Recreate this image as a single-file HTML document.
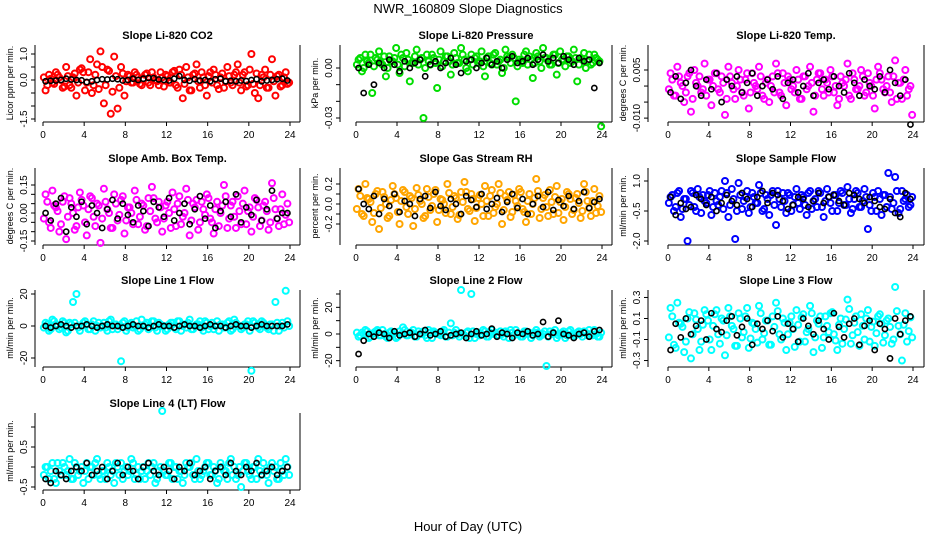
<!DOCTYPE html>
<html><head><meta charset="utf-8">
<style>
body{margin:0;background:#fff;}
svg{display:block;font-family:"Liberation Sans",Arial,sans-serif;}
.t{font-weight:bold;font-size:11px;}
.tk{font-size:10px;}
.yl{font-size:9px;}
</style></head>
<body>
<svg id="chart" width="936" height="540" viewBox="0 0 936 540">
<text x="468" y="13" text-anchor="middle" font-size="13">NWR_160809  Slope Diagnostics</text>
<text x="468" y="531" text-anchor="middle" font-size="13">Hour of Day (UTC)</text>
</svg>
<script>
const xTicks=[0,4,8,12,16,20,24];
const co2C=[-40,20,-10,30,10,-30,50,-20,10,-60,40,30,-10,80,-20,60,110,-90,40,-130,90,-110,50,-60,20,-10,30,10,-20,20,-10,30,0,-20,10,20,-10,30,-20,40,-70,50,-40,20,60,-30,10,-60,30,40,-20,10,-30,50,-10,20,60,-40,30,-20,100,-50,-70,20,40,-30,80,-60,20,-20,30,-10];
const co2C2=[10,-20,5,-15,20,0,-25,15,-30,25,-10,45,-40,30,-50,20,-35,50,-20,35,-45,15,-30,25,-5,15,-10,20,-15,5,25,-20,10,-5,30,-25,15,-10,35,-30,20,-15,10,-40,25,-5,30,-20,15,-10,20,-35,25,-5,15,-20,30,-10,20,-25,40,-15,25,-20,10,-30,20,-5,15,-25,10,-15];
const co2K=[-5,-3,-2,0,5,2,0,-1,-8,-5,0,3,2,5,3,-2,0,5,0,5,8,7,2,0,-2,5,15,0,-3,3,-2,0,-5,3,5,-5,-3,-5,-2,-4,0,3,-5,-2,0,3,5,-2];
const presC=[5,-2,8,3,-15,6,10,2,-5,7,4,12,-3,6,9,-8,3,11,5,-30,8,2,6,-12,10,4,7,-4,9,3,12,5,-2,8,6,3,10,-5,7,2,9,4,-3,11,6,8,-20,5,3,10,7,-6,9,4,12,6,2,8,-4,10,5,7,3,11,-8,6,9,4,2,8,5,-35];
const presC2=[2,6,0,4,8,1,5,3,7,0,4,6,2,8,1,5,3,7,2,6,0,4,8,3,5,1,7,4,2,6,3,8,0,5,2,7,4,1,6,3,8,2,5,0,7,3,6,1,4,8,2,5,3,7,0,6,4,2,8,3,5,1,7,4,6,2,5,0,8,3,6,4];
const presK=[0,-15,2,-10,3,0,5,2,-2,4,0,3,5,-5,2,4,0,3,6,2,-3,4,5,0,3,6,2,4,0,5,7,3,4,6,2,5,8,4,6,3,7,5,2,6,4,5,-12,3];
const tempC=[4,-3,6,1,-5,3,-8,5,0,-2,7,2,-6,4,-1,3,-9,6,1,-4,5,-2,2,-7,4,0,6,-3,1,-5,3,7,-2,4,-6,2,0,5,-4,3,-1,6,-8,2,4,-3,1,5,-2,-6,3,0,7,-4,2,-1,5,-3,4,0,-7,6,2,-2,3,-5,8,1,-4,5,-1,-9];
const tempC2=[-1,2,-3,3,0,-2,4,-4,1,3,-1,-3,2,0,4,-2,1,-4,3,-1,0,2,-3,4,-2,1,-1,3,-4,2,0,-2,4,-3,1,3,-1,-2,2,-4,3,0,1,-3,4,-1,2,-2,3,0,-4,1,2,-3,4,-1,0,3,-2,1,-3,2,4,-1,0,-2,3,-4,1,2,-3,0];
const tempK=[-2,3,-4,1,5,0,-3,2,-1,4,-5,2,0,3,-2,1,4,-3,0,2,-1,3,-4,1,2,-2,0,4,-3,1,2,-1,3,0,-2,4,1,-3,2,0,-1,3,-2,5,1,-3,2,-12];
const ambC=[10,-5,12,3,-10,6,-14,8,0,-7,11,4,-12,9,-2,5,-16,13,2,-8,10,-4,7,-11,3,0,12,-6,5,-9,8,14,-3,6,-10,4,0,11,-7,9,-2,13,-12,5,7,-5,2,10,-3,-11,6,0,15,-8,4,-2,9,-6,12,1,-10,8,3,-4,6,-9,16,2,-7,10,-1,-5];
const ambC2=[-3,6,-8,4,1,-6,9,-2,5,-9,3,7,-5,2,8,-7,4,-3,6,0,-8,5,-1,9,-4,3,-6,7,-2,4,-7,1,8,-5,3,-3,6,-8,2,5,-6,0,7,-4,3,-9,6,-1,8,-5,2,-7,4,9,-3,6,-8,1,5,-6,3,-2,7,-7,4,1,-5,8,-3,2,-6,5];
const ambK=[0,-4,5,8,-10,3,-2,6,-6,4,0,-8,2,7,-3,5,-1,-5,4,1,-7,6,3,-2,8,-4,0,5,-6,2,9,-3,4,-8,1,6,-2,10,-5,3,-1,7,-4,2,12,-3,0,0];
const rhC=[15,-10,20,5,-18,10,-25,12,0,-12,18,6,-20,14,-3,8,-22,16,3,-14,15,-6,10,-18,5,0,20,-10,8,-15,12,22,-5,10,-17,6,0,18,-12,14,-3,20,-20,8,12,-8,3,15,-5,-18,10,0,25,-14,6,-3,14,-10,18,2,-16,12,5,-6,10,-14,20,3,-12,15,-2,-8];
const rhC2=[-5,8,-12,6,2,-9,13,-4,7,-14,4,10,-8,3,12,-10,6,-5,9,0,-12,7,-2,14,-6,4,-9,11,-3,6,-11,2,12,-7,5,-4,9,-12,3,8,-9,0,11,-6,4,-13,9,-2,12,-8,3,-10,6,13,-5,9,-12,2,7,-9,5,-3,10,-10,6,1,-7,12,-4,3,-9,8];
const rhK=[15,0,-5,8,-10,5,-2,10,-8,3,0,-12,5,8,-4,12,-2,-6,5,0,-10,8,4,-3,10,-5,0,6,-8,2,10,-4,5,-10,0,8,-3,12,-6,4,-2,8,-5,3,12,-4,2,5];
const flowC=[2,-5,4,-8,1,-20,5,-3,6,-6,0,3,-7,4,-2,5,10,-8,6,-19,9,-4,2,-6,4,-1,8,-5,3,-7,5,-12,1,4,-6,3,-2,6,-4,2,-7,5,0,-3,4,-8,6,-1,3,-5,5,-2,7,-6,1,4,-3,6,-14,-5,2,5,-7,3,14,-4,12,-6,5,1,-3,2];
const flowC2=[-1,3,-3,5,-4,1,-2,4,-5,2,3,-1,5,-3,0,2,-4,4,-2,1,-5,3,0,5,-3,2,-1,4,-4,1,3,-2,5,-3,0,4,-5,2,-1,3,-2,4,-4,1,5,-3,0,2,-5,3,-1,4,-2,1,-4,5,-3,0,2,-2,4,-5,1,3,-3,2,-1,5,-4,0,3,-2];
const flowK=[2,-7,-1,-4,-3,3,1,-2,2,-5,-1,3,0,-2,4,1,-3,2,5,-1,4,3,0,-4,-2,2,1,-3,0,4,-1,2,3,0,-2,4,3,1,-1,2,0,-3,-4,1,-6,-8,4,1];
const l1C=[2,-3,4,1,-2,3,-4,2,15,20,-3,2,1,-2,3,0,-1,2,-3,4,1,-2,-22,3,-1,2,0,-3,4,1,-2,3,-1,2,0,-3,1,2,-2,3,0,-1,4,-2,1,3,-3,2,0,-2,3,1,-1,2,-3,4,0,-2,1,3,-28,2,-1,3,0,-2,1,15,-3,2,22,0];
const l1C2=[-1,1,-2,3,0,-1,2,-3,1,2,-1,0,3,-2,1,-3,2,0,-1,3,-2,1,0,2,-3,1,-1,3,-2,0,2,-1,3,-3,1,0,-2,2,-1,3,-3,1,2,-2,0,1,-1,3,-2,2,0,-3,1,-1,3,-2,2,0,-1,1,-3,3,0,-2,2,-1,1,-3,2,0,-1,3];
const l1K=[0,-1,0,1,0,-1,0,0,1,0,-1,0,1,0,0,-1,0,1,0,0,-1,0,1,0,0,-1,0,1,0,0,-1,0,1,0,0,-1,0,1,0,0,-1,0,1,0,0,0,0,1];
const l2C=[-2,1,3,-3,0,2,-1,3,-2,1,0,-3,2,5,-1,1,3,-2,0,2,-3,1,2,0,-1,3,-2,8,1,0,33,-1,2,30,-3,1,0,2,-2,3,1,-1,0,2,-3,1,3,0,-2,2,1,-1,3,-2,0,-24,2,1,-3,0,2,-1,3,-2,1,0,2,-1,0,3,-2,1];
const l2C2=[1,-1,0,2,-2,1,3,-1,0,-3,2,1,-2,0,3,-1,1,-2,2,0,-1,3,-3,1,0,2,-2,1,-1,3,-2,0,1,-3,2,0,-1,3,-2,1,0,-1,2,-2,1,3,-1,0,-2,2,0,-3,1,1,-1,2,-2,0,3,-1,1,-3,2,0,-1,2,-2,1,3,-1,0,-2];
const l2K=[-15,-5,0,-2,1,0,-3,2,-1,0,1,-2,0,3,-1,0,2,-2,-1,0,1,-3,0,2,-1,0,4,-2,1,0,-3,1,0,2,-1,0,9,-2,1,10,0,-1,-3,0,1,-2,2,3];
const l3C=[20,-15,25,5,-22,10,-28,15,0,-12,18,8,-20,14,-5,10,-25,20,3,-16,15,-8,12,-18,6,0,22,-10,8,-15,12,25,-5,10,-20,6,0,18,-12,14,-3,22,-22,8,12,-8,3,15,-5,-20,10,0,28,-14,6,-3,14,-10,18,2,-16,12,5,-6,10,-14,40,3,-30,15,-2,-8];
const l3C2=[-8,12,-18,6,2,-12,16,-5,9,-20,4,14,-10,3,18,-14,8,-6,12,0,-16,10,-3,20,-9,5,-13,15,-4,8,-15,2,17,-10,6,-5,12,-17,4,11,-12,0,15,-8,5,-18,12,-3,16,-11,4,-14,9,19,-6,12,-16,3,10,-12,7,-4,14,-13,8,2,-10,17,-5,4,-12,11];
const l3K=[-20,5,-8,10,-5,3,8,-10,15,0,-3,8,12,-6,2,10,-15,5,0,8,-2,12,-8,5,0,-12,10,3,-5,8,0,-10,15,2,-8,5,10,-15,3,8,-20,5,0,-28,10,-5,8,12];
const l4C=[0,-3,1,-4,-1,1,-2,2,-3,0,-1,-4,1,0,-2,2,-3,-1,1,-2,-4,0,1,-1,-2,2,-3,0,-1,-3,1,0,-4,-1,14,-2,1,-3,0,-1,-4,1,0,-2,2,-3,-1,1,-2,0,-4,1,-1,-3,2,0,-2,-5,1,-1,-3,0,2,-2,-1,-4,1,0,-3,-1,2,-2];
const l4C2=[-2,0,-1,-3,1,-2,0,-1,-3,1,-2,0,-1,-3,0,1,-2,-1,-3,0,-1,1,-2,-3,0,-1,1,-2,-3,0,-1,-2,1,-3,0,-1,-2,1,0,-3,-1,-2,0,1,-3,-1,-2,0,1,-2,-1,-3,0,-1,1,-2,-3,0,-1,1,-2,0,-3,-1,1,-2,0,-1,-3,1,-2,0];
const l4K=[-3,-4,-1,-2,-3,-1,0,-1,1,-2,-1,0,-3,-1,1,-2,0,-1,-3,0,1,-1,-2,0,-1,-3,0,-1,1,-2,-1,0,-3,-1,0,-2,1,-1,-2,0,-1,1,-2,-1,0,-2,-1,0];

const cols=[{ax:35,x0:43,x24:290,right:300},{ax:340,x0:356,x24:602,right:612},{ax:648,x0:668,x24:913,right:924}];
const rows=[{top:45,bot:121},{top:168,bot:244},{top:290,bot:366},{top:413,bot:489}];
const panels=[
 {id:'co2',title:'Slope Li-820 CO2',yl:'Licor ppm per min.',col:'#ff0000',c:0,r:0,unit:0.01,vt:1.346,vb:-1.577,C:co2C,C2:co2C2,K:co2K,ticks:[[-1.5,'-1.5'],[-1,''],[-0.5,''],[0,'0.0'],[0.5,''],[1,'1.0']]},
 {id:'pressure',title:'Slope Li-820 Pressure',yl:'kPa per min.',col:'#00dd00',c:1,r:0,unit:0.001,vt:0.0138,vb:-0.0318,C:presC,C2:presC2,K:presK,ticks:[[-0.03,'-0.03'],[-0.02,''],[-0.01,''],[0,'0.00']]},
 {id:'temp',title:'Slope Li-820 Temp.',yl:'degrees C per min.',col:'#ff00ff',c:2,r:0,unit:0.001,vt:0.0128,vb:-0.0109,C:tempC,C2:tempC2,K:tempK,ticks:[[-0.01,'-0.010'],[-0.005,''],[0,''],[0.005,'0.005']]},
 {id:'amb-box-temp',title:'Slope Amb. Box Temp.',yl:'degrees C per min.',col:'#ff00ff',c:0,r:1,unit:0.01,vt:0.241,vb:-0.166,C:ambC,C2:ambC2,K:ambK,ticks:[[-0.15,'-0.15'],[-0.1,''],[-0.05,''],[0,'0.00'],[0.05,''],[0.1,''],[0.15,'0.15']]},
 {id:'gas-rh',title:'Slope Gas Stream RH',yl:'percent per min.',col:'#ffa500',c:1,r:1,unit:0.01,vt:0.36,vb:-0.40,C:rhC,C2:rhC2,K:rhK,ticks:[[-0.2,'-0.2'],[-0.1,''],[0,'0.0'],[0.1,''],[0.2,'0.2']]},
 {id:'sample-flow',title:'Slope Sample Flow',yl:'ml/min per min.',col:'#0000ff',c:2,r:1,unit:0.1,vt:1.65,vb:-2.15,C:flowC,C2:flowC2,K:flowK,ticks:[[-2,'-2.0'],[-0.5,'-0.5'],[1,'1.0']]},
 {id:'line1-flow',title:'Slope Line 1 Flow',yl:'ml/min per min.',col:'#00ffff',c:0,r:2,unit:1,vt:22.5,vb:-25,C:l1C,C2:l1C2,K:l1K,ticks:[[-20,'-20'],[0,'0'],[20,'20']]},
 {id:'line2-flow',title:'Slope Line 2 Flow',yl:'ml/min per min.',col:'#00ffff',c:1,r:2,unit:1,vt:33,vb:-24,C:l2C,C2:l2C2,K:l2K,ticks:[[-20,'-20'],[-10,''],[0,'0'],[10,''],[20,'20'],[30,'']]},
 {id:'line3-flow',title:'Slope Line 3 Flow',yl:'ml/min per min.',col:'#00ffff',c:2,r:2,unit:0.01,vt:0.371,vb:-0.352,C:l3C,C2:l3C2,K:l3K,ticks:[[-0.3,'-0.3'],[-0.1,'-0.1'],[0.1,'0.1'],[0.3,'0.3']]},
 {id:'line4-flow',title:'Slope Line 4 (LT) Flow',yl:'ml/min per min.',col:'#00ffff',c:0,r:3,unit:0.1,vt:1.35,vb:-0.55,C:l4C,C2:l4C2,K:l4K,ticks:[[-0.5,'-0.5'],[0,''],[0.5,'0.5'],[1,'']]}
];
const NS='http://www.w3.org/2000/svg';
const svg=document.getElementById('chart');
function mk(tag,attrs,parent){const e=document.createElementNS(NS,tag);for(const k in attrs)e.setAttribute(k,attrs[k]);parent.appendChild(e);return e;}
panels.forEach(p=>{
 const cl=cols[p.c],rw=rows[p.r];
 const g=mk('g',{},svg);
 
 
 const xs=h=>cl.x0+(cl.x24-cl.x0)*h/24;
 const ys=v=>rw.top+(p.vt-v)/(p.vt-p.vb)*(rw.bot-rw.top);
 const t=mk('text',{x:(cl.ax+cl.right)/2,y:rw.top-6,'text-anchor':'middle',class:'t'},g);t.textContent=p.title;
 
 
 const ax=mk('path',{d:`M${cl.ax},${rw.top}V${rw.bot+1}M${cl.x0},${rw.bot+1}H${cl.right}M${cl.right},${rw.top}V${rw.bot+1}`,stroke:'#000',fill:'none','stroke-width':1},g);
 
 
 xTicks.forEach(h=>{const x=xs(h);mk('line',{x1:x,x2:x,y1:rw.bot+1,y2:rw.bot+5,stroke:'#000'},g);
  const tx=mk('text',{x:x,y:rw.bot+17,'text-anchor':'middle',class:'tk'},g);tx.textContent=h;
  
  });
 p.ticks.forEach(([v,l])=>{const y=ys(v);mk('line',{x1:cl.ax-4,x2:cl.ax,y1:y,y2:y,stroke:'#000'},g);
  if(l){const tx=mk('text',{x:cl.ax-8,y:y,'text-anchor':'middle',class:'tk',transform:`rotate(-90 ${cl.ax-8} ${y})`},g);tx.textContent=l;
  
  }});
 const yl=mk('text',{x:cl.ax-22,y:(rw.top+rw.bot)/2,'text-anchor':'middle',class:'yl',transform:`rotate(-90 ${cl.ax-22} ${(rw.top+rw.bot)/2})`},g);yl.textContent=p.yl;
 
 
 const gc=mk('g',{},g);
 
 
 [[p.C,0.5],[p.C2,0]].forEach(([arr,off])=>{
  arr.forEach((v,i)=>{const h=(i+off+0.25)*24/arr.length;
   const c=mk('circle',{cx:xs(h),cy:ys(v*p.unit),r:3,fill:'none',stroke:p.col,'stroke-width':2},gc);
   
   });
 });
 const gk=mk('g',{},g);
 
 
 p.K.forEach((v,i)=>{const h=(i+0.5)*24/p.K.length;
  const c=mk('circle',{cx:xs(h),cy:ys(v*p.unit),r:2.6,fill:'none',stroke:'#000','stroke-width':1.6},gk);
  
  });
});
</script>
</body></html>
